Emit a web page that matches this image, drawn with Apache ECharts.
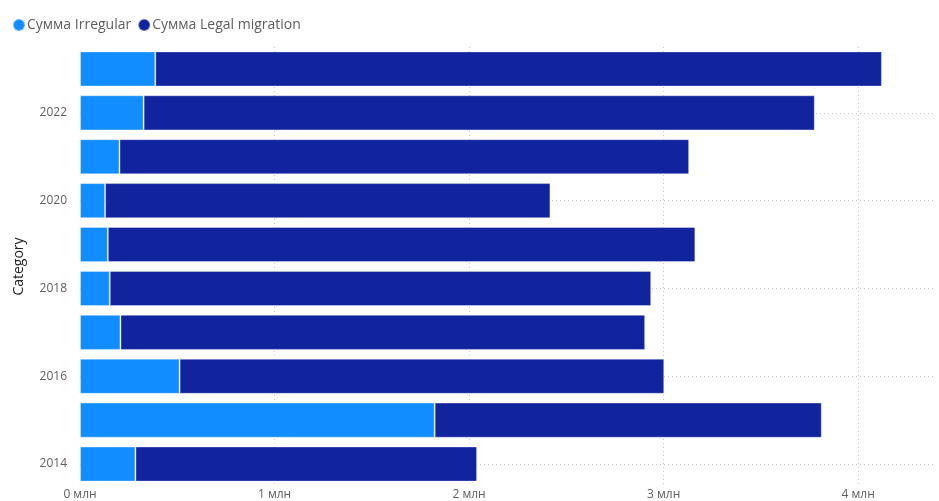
<!DOCTYPE html>
<html>
<head>
<meta charset="utf-8">
<script src="https://cdn.jsdelivr.net/npm/echarts@6/dist/echarts.min.js"></script>
<style>html,body{margin:0;padding:0;background:#fff}#c{width:939px;height:501px}</style>
</head>
<body>
<div id="c"></div>
<script>
var categories = ['2014','2015','2016','2017','2018','2019','2020','2021','2022','2023'];
var irregular = [0.285, 1.823, 0.512, 0.208, 0.153, 0.143, 0.129, 0.203, 0.327, 0.387];
var legal = [1.756, 1.990, 2.491, 2.697, 2.783, 3.020, 2.289, 2.928, 3.450, 3.735];
var xTicks = [0, 1, 2, 3, 4];
var FONT = '"Segoe UI", "Open Sans", sans-serif';

var chart = echarts.init(document.getElementById('c'));
chart.setOption({
  animation: false,
  legend: {
    left: 7, top: 13, icon: 'circle', itemWidth: 12, itemHeight: 12, itemGap: 6,
    textStyle: { color: '#605E5C', fontSize: 14, fontFamily: FONT, padding: [0, 0, 0, -3] },
    data: ['Сумма Irregular', 'Сумма Legal migration']
  },
  grid: { left: 80, right: 2, top: 47, bottom: 15, containLabel: false },
  xAxis: {
    type: 'value', min: 0, max: 4.4, interval: 1,
    axisLine: { show: false }, axisTick: { show: false },
    axisLabel: {
      color: '#605E5C', fontSize: 12, fontFamily: FONT, margin: 3,
      formatter: function (v) { return xTicks.indexOf(v) >= 0 ? v + ' млн' : ''; }
    },
    splitLine: { show: true, showMinLine: false, showMaxLine: false, lineStyle: { color: '#C8C6C4', type: [1, 3], width: 1 } }
  },
  yAxis: {
    type: 'category', data: categories,
    name: 'Category', nameLocation: 'middle', nameGap: 54, nameRotate: 90,
    nameTextStyle: { color: '#252423', fontSize: 14, fontFamily: FONT },
    axisLine: { show: false }, axisTick: { show: false },
    axisLabel: { color: '#605E5C', fontSize: 12, fontFamily: FONT, margin: 13, interval: 1 },
    splitLine: { show: true, interval: 1, alignWithLabel: true, lineStyle: { color: '#C8C6C4', type: [1, 3], width: 1 } }
  },
  series: [
    { name: 'Сумма Irregular', type: 'bar', stack: 's', data: irregular, barCategoryGap: '20%',
      itemStyle: { color: '#118DFF', borderColor: 'rgba(255,255,255,0.35)', borderWidth: 1 } },
    { name: 'Сумма Legal migration', type: 'bar', stack: 's', data: legal, barCategoryGap: '20%',
      itemStyle: { color: '#12239E', borderColor: 'rgba(255,255,255,0.35)', borderWidth: 1 } }
  ]
});
</script>
</body>
</html>
